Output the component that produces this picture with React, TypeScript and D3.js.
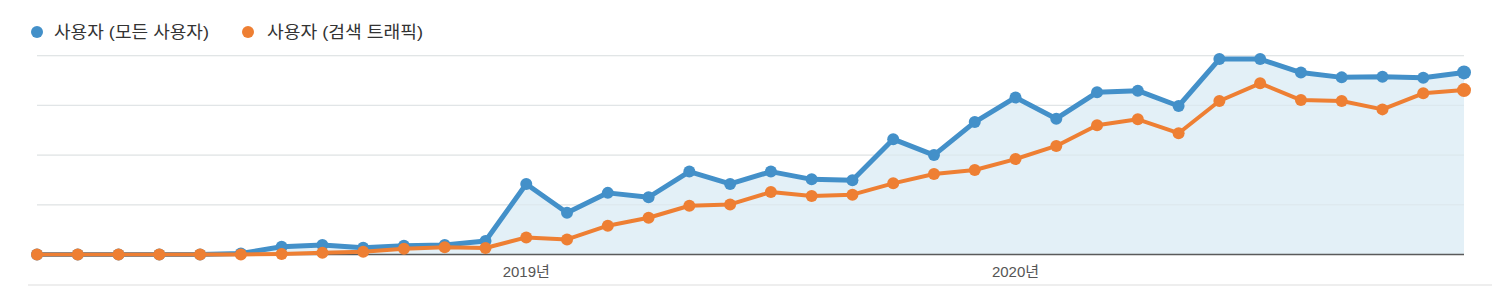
import React from "react";
import * as d3 from "d3";

const months: string[] = Array.from({ length: 36 }, (_, i) => `${2018 + Math.floor(i / 12)}-${String((i % 12) + 1).padStart(2, "0")}`);

const allUsers: number[] = [
  0, 0, 0, 0, 0, 0.5, 3.9, 4.8, 3.4, 4.4, 4.8, 6.8,
  35.5, 21, 31, 28.8, 41.7, 35.5, 41.7, 37.8, 37.3, 58, 50, 66.6,
  79, 68.3, 81.6, 82.4, 74.7, 98.3, 98.3, 91.5, 89.1, 89.4, 88.9, 91.6,
];

const searchUsers: number[] = [
  0, 0, 0, 0, 0, 0, 0.3, 0.9, 1.4, 2.9, 3.6, 3.3,
  8.6, 7.6, 14.5, 18.5, 24.5, 25.2, 31.4, 29.4, 30.1, 35.8, 40.5, 42.5,
  48, 54.6, 65, 68, 61, 77.2, 86.1, 77.7, 77.2, 73, 81.1, 82.7,
];

const seriesNames: string[] = ["사용자 (모든 사용자)", "사용자 (검색 트래픽)"];
const yearTicks: { index: number; label: string }[] = [
  { index: 12, label: "2019년" },
  { index: 24, label: "2020년" },
];
const gridValues: number[] = [25, 50, 75, 100];

export default function App() {
  const W = 1500, H = 286;
  const x = d3.scaleLinear().domain([0, months.length - 1]).range([37, 1464]);
  const y = d3.scaleLinear().domain([0, 100]).range([254.5, 55.7]);
  const blue = "#4390c9";
  const orange = "#ee7f33";
  const font = "'Liberation Sans', Arial, 'Noto Sans CJK KR', sans-serif";

  const line = d3.line<number>().x((_, i) => x(i)).y((d) => y(d));
  const area = d3.area<number>().x((_, i) => x(i)).y0(y(0)).y1((d) => y(d));

  return (
    <svg width={W} height={H} style={{ position: "absolute", left: 0, top: 0, display: "block" }}>
      <rect width={W} height={H} fill="#fff" />
      {/* legend */}
      <circle cx={37} cy={32} r={6} fill={blue} />
      <text x={54} y={38} fontSize={17} fill="#333" fontFamily={font} textLength={155} lengthAdjust="spacingAndGlyphs">{seriesNames[0]}</text>
      <circle cx={248} cy={32} r={6} fill={orange} />
      <text x={267} y={38} fontSize={17} fill="#333" fontFamily={font} textLength={156} lengthAdjust="spacingAndGlyphs">{seriesNames[1]}</text>

      {/* grid */}
      {gridValues.map((g) => (
        <line key={g} x1={37} x2={1464} y1={y(g)} y2={y(g)} stroke="#ebebeb" strokeWidth={1.2} />
      ))}

      {/* area */}
      <path d={area(allUsers) || ""} fill="#e3f0f7" />
      {gridValues.map((g) => (
        <line key={"o" + g} x1={37} x2={1464} y1={y(g)} y2={y(g)} stroke="#d5dde2" strokeOpacity={0.5} strokeWidth={1} />
      ))}

      {/* baseline */}
      <line x1={37} x2={1464} y1={y(0)} y2={y(0)} stroke="#5a5a5a" strokeWidth={1.5} />
      <line x1={28} x2={1492} y1={285} y2={285} stroke="#dddddd" strokeWidth={1} />

      {/* x labels */}
      {yearTicks.map((t) => (
        <text key={t.label} x={x(t.index)} y={277} textAnchor="middle" fontSize={15} fill="#555" fontFamily={font}>{t.label}</text>
      ))}

      {/* blue series */}
      <path d={line(allUsers) || ""} fill="none" stroke={blue} strokeWidth={5} strokeLinejoin="round" />
      {allUsers.map((v, i) => (
        <circle key={"b" + i} cx={x(i)} cy={y(v)} r={i === allUsers.length - 1 ? 7 : 6} fill={blue} />
      ))}

      {/* orange series */}
      <path d={line(searchUsers) || ""} fill="none" stroke={orange} strokeWidth={4} strokeLinejoin="round" />
      {searchUsers.map((v, i) => (
        <circle key={"o" + i} cx={x(i)} cy={y(v)} r={i === searchUsers.length - 1 ? 7 : 6} fill={orange} />
      ))}
    </svg>
  );
}
